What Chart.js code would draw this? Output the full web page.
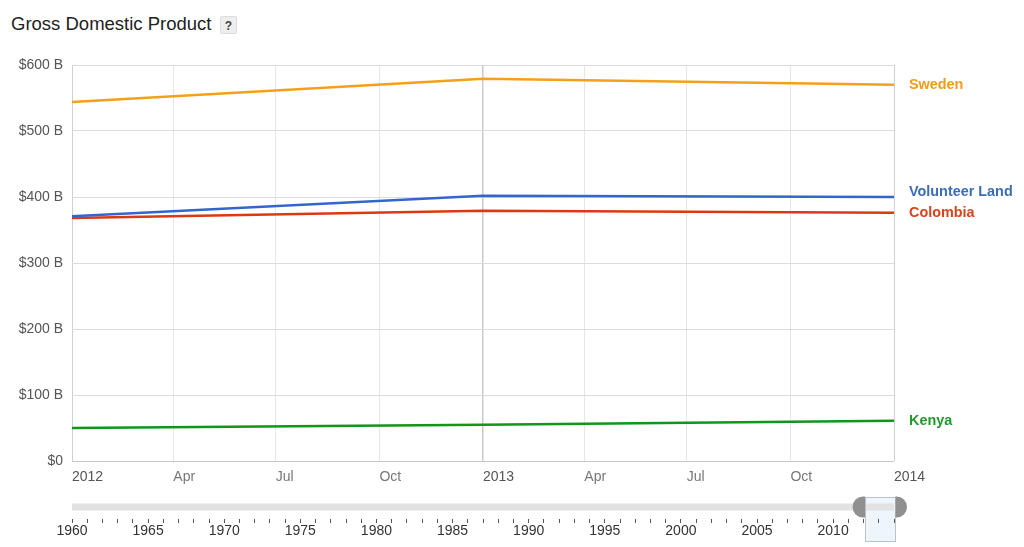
<!DOCTYPE html>
<html>
<head>
<meta charset="utf-8">
<script src="https://cdn.jsdelivr.net/npm/chart.js@4/dist/chart.umd.min.js"></script>
<style>
  html, body { margin: 0; padding: 0; background: #fff; }
  #wrap { position: relative; width: 1024px; height: 547px; overflow: hidden; font-family: "Liberation Sans", Arial, sans-serif; }
  #title { position: absolute; left: 11px; top: 13px; font-size: 18.5px; color: #222; white-space: nowrap; }
  #help { position: absolute; left: 220px; top: 16px; width: 17px; height: 18px; background: #eee; border: 1px solid #ddd; border-radius: 2px; font-size: 12px; font-weight: bold; color: #444; text-align: center; line-height: 18px; box-sizing: border-box; }
  #main { position: absolute; left: 0; top: 40px; }
  #slider { position: absolute; left: 0; top: 495px; }
</style>
</head>
<body>
<div id="wrap">
  <div id="title">Gross Domestic Product</div>
  <div id="help">?</div>
  <canvas id="main" width="1024" height="460"></canvas>
  <canvas id="slider" width="1024" height="52"></canvas>
</div>
<script>
// ---- data ----
const years = [2012, 2013, 2014];
const seriesNames = ['Sweden', 'Volunteer Land', 'Colombia', 'Kenya'];
const sweden = [544, 579, 570];
const volunteerLand = [371, 402, 400];
const colombia = [368, 379, 376];
const kenya = [50, 55, 61];
const seriesColors = ['#f5a01a', '#3366cc', '#dc3912', '#109618'];
const labelColors = ['#f39a16', '#3a6db5', '#d8441c', '#229a2a'];
const xTickValues = [2012, 2012 + 90/365, 2012 + 181/365, 2012 + 273/365, 2013, 2013 + 90/365, 2013 + 181/365, 2013 + 273/365, 2014];
const xTickLabels = ['2012', 'Apr', 'Jul', 'Oct', '2013', 'Apr', 'Jul', 'Oct', '2014'];
const yTickValues = [0, 100, 200, 300, 400, 500, 600];
const sliderRange = [1960, 2014];
const selectedRange = [2012, 2014];

const FONT = '"Liberation Sans", Arial, sans-serif';
const seriesValues = [sweden, volunteerLand, colombia, kenya];

const datasets = seriesNames.map((n, i) => ({
  label: n,
  data: years.map((y, j) => ({ x: y, y: seriesValues[i][j] })),
  borderColor: seriesColors[i],
  backgroundColor: seriesColors[i],
  borderWidth: 2.5,
  pointRadius: 0,
  tension: 0,
  fill: false
}));

const endLabels = {
  id: 'endLabels',
  afterDatasetsDraw(chart) {
    const ctx = chart.ctx;
    const items = chart.data.datasets.map((ds, i) => {
      const meta = chart.getDatasetMeta(i);
      const last = meta.data[meta.data.length - 1];
      return { text: ds.label, y: last.y, color: labelColors[i] };
    }).sort((a, b) => b.y - a.y);
    // keep lower labels fixed, move upper ones up if they collide
    for (let k = 1; k < items.length; k++) {
      if (items[k - 1].y - items[k].y < 21) items[k].y = items[k - 1].y - 21;
    }
    ctx.save();
    ctx.font = 'bold 14.4px ' + FONT;
    ctx.textBaseline = 'middle';
    ctx.textAlign = 'left';
    items.forEach(it => {
      ctx.fillStyle = it.color;
      ctx.fillText(it.text, chart.chartArea.right + 15, it.y);
    });
    ctx.restore();
  }
};

new Chart(document.getElementById('main'), {
  type: 'line',
  data: { datasets },
  options: {
    responsive: false,
    animation: false,
    layout: { padding: { top: 25, right: 130, left: 0, bottom: 0 } },
    plugins: { legend: { display: false }, tooltip: { enabled: false } },
    scales: {
      x: {
        type: 'linear',
        min: years[0], max: years[years.length - 1],
        afterBuildTicks: s => { s.ticks = xTickValues.map(v => ({ value: v })); },
        afterFit: s => { s.height = 39; },
        ticks: {
          autoSkip: false, maxRotation: 0, align: 'start', padding: 8,
          color: ctx => (ctx.index % 4 === 0 ? '#555' : '#777'),
          font: { family: FONT, size: 14 },
          callback: (v, i) => xTickLabels[i]
        },
        grid: {
          drawTicks: false,
          color: ctx => (ctx.index % 4 === 0 ? (ctx.index === 4 ? '#cacaca' : '#d0d0d0') : '#e6e6e6'),
          lineWidth: ctx => (ctx.index === 4 ? 1.5 : 1)
        },
        border: { display: false }
      },
      y: {
        min: 0, max: 600,
        afterBuildTicks: s => { s.ticks = yTickValues.map(v => ({ value: v })); },
        afterFit: s => { s.width = 72; },
        ticks: {
          padding: 9, color: '#555',
          font: { family: FONT, size: 14 },
          callback: v => (v === 0 ? '$0' : '$' + v + ' B')
        },
        grid: {
          drawTicks: false,
          color: ctx => (ctx.index === 0 ? '#c8c8c8' : '#dcdcdc')
        },
        border: { display: false }
      }
    }
  },
  plugins: [endLabels]
});

// ---- range slider ----
const sliderDecor = {
  id: 'sliderDecor',
  beforeDraw(chart) {
    const ctx = chart.ctx, x = chart.scales.x;
    const a = x.getPixelForValue(selectedRange[0]) + 1.5;
    const b = x.getPixelForValue(selectedRange[1]) + 1.5;
    ctx.save();
    ctx.fillStyle = '#eef6fb';
    ctx.fillRect(a, 2, b - a, 45);
    ctx.restore();
  },
  afterDraw(chart) {
    const ctx = chart.ctx, x = chart.scales.x;
    const a = x.getPixelForValue(selectedRange[0]) + 1.5;
    const b = x.getPixelForValue(selectedRange[1]) + 1.5;
    ctx.save();
    ctx.strokeStyle = '#b8c4cc';
    ctx.lineWidth = 1;
    ctx.strokeRect(Math.round(a) + 0.5, 2.5, Math.round(b - a), 44);
    ctx.fillStyle = '#909090';
    // left handle
    ctx.beginPath();
    ctx.moveTo(a, 1.5);
    ctx.lineTo(a - 2, 1.5);
    ctx.arc(a - 2, 12, 10.5, -Math.PI / 2, Math.PI / 2, true);
    ctx.lineTo(a, 22.5);
    ctx.closePath();
    ctx.fill();
    // right handle
    ctx.beginPath();
    ctx.moveTo(b, 1.5);
    ctx.lineTo(b + 1, 1.5);
    ctx.arc(b + 1, 12, 10.5, -Math.PI / 2, Math.PI / 2, false);
    ctx.lineTo(b, 22.5);
    ctx.closePath();
    ctx.fill();
    ctx.restore();
  }
};

const sliderYears = [];
for (let y = sliderRange[0]; y <= sliderRange[1]; y++) sliderYears.push(y);

new Chart(document.getElementById('slider'), {
  type: 'line',
  data: {
    datasets: [{
      data: [{ x: sliderRange[0], y: 0 }, { x: sliderRange[1], y: 0 }],
      borderColor: '#e2e2e2',
      borderWidth: 7,
      borderCapStyle: 'round',
      pointRadius: 0
    }]
  },
  options: {
    responsive: false,
    animation: false,
    layout: { padding: { top: 0, right: 130, left: 0, bottom: 0 } },
    plugins: { legend: { display: false }, tooltip: { enabled: false } },
    scales: {
      x: {
        type: 'linear',
        min: sliderRange[0], max: sliderRange[1],
        afterBuildTicks: s => { s.ticks = sliderYears.map(v => ({ value: v })); },
        afterFit: s => { s.height = 28; },
        ticks: {
          autoSkip: false, maxRotation: 0, padding: 0, color: '#333',
          font: { family: FONT, size: 14 },
          callback: v => (v % 5 === 0 && v < 2014 ? String(v) : '')
        },
        grid: { drawOnChartArea: false, drawTicks: true, tickLength: 4, color: '#555', lineWidth: 1 },
        border: { display: false }
      },
      y: {
        display: true,
        min: -1, max: 1,
        afterFit: s => { s.width = 72; },
        ticks: { display: false },
        grid: { display: false },
        border: { display: false }
      }
    }
  },
  plugins: [sliderDecor]
});
</script>
</body>
</html>
